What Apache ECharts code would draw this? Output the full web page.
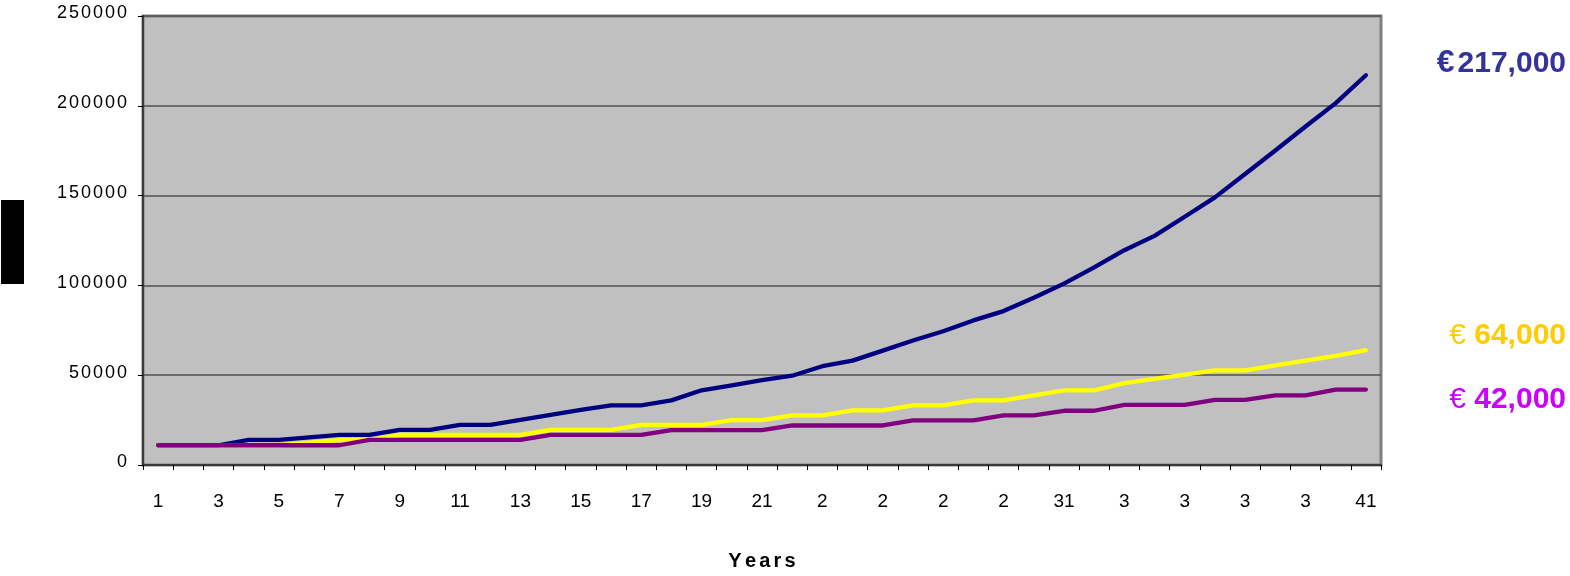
<!DOCTYPE html>
<html>
<head>
<meta charset="utf-8">
<script src="https://cdn.jsdelivr.net/npm/echarts@6/dist/echarts.min.js"></script>
<style>
  html, body { margin: 0; padding: 0; background: #ffffff; }
  #chart { width: 1570px; height: 576px; }
</style>
</head>
<body>
<div id="chart"></div>
<script>
// Years on the horizontal axis
const years = [1, 2, 3, 4, 5, 6, 7, 8, 9, 10, 11, 12, 13, 14, 15, 16, 17, 18, 19, 20,
  21, 22, 23, 24, 25, 26, 27, 28, 29, 30, 31, 32, 33, 34, 35, 36, 37, 38, 39, 40, 41];

// Labels printed under the axis (every second year)
const xTickLabels = ['1', '', '3', '', '5', '', '7', '', '9', '', '11', '', '13', '', '15', '',
  '17', '', '19', '', '21', '', '2', '', '2', '', '2', '', '2', '', '31', '', '3', '', '3', '',
  '3', '', '3', '', '41'];

// Value axis ticks
const yMin = 0;
const yMax = 250000;
const yStep = 50000;

// Accumulated value per year for the three scenarios
const highGrowth = [11000, 11000, 11000, 14000, 14000, 15400, 16800, 16800, 19600, 19600,
  22300, 22300, 25100, 27900, 30700, 33200, 33200, 36000, 41600, 44400,
  47200, 49700, 55000, 58100, 63700, 69300, 74500, 80500, 85700, 93100,
  101000, 110000, 119600, 127600, 138200, 149000, 162000, 175100, 188500, 201500, 217000];

const midGrowth = [11000, 11000, 11000, 11000, 11000, 12500, 14000, 14000, 16800, 16800,
  16800, 16800, 16800, 19600, 19600, 19600, 22300, 22300, 22300, 25000,
  25000, 27600, 27600, 30400, 30400, 33200, 33200, 36000, 36000, 38800,
  41600, 41600, 45600, 48000, 50300, 52700, 52700, 55500, 58100, 60700, 64000];

const lowGrowth = [11000, 11000, 11000, 11000, 11000, 11000, 11000, 14000, 14000, 14000,
  14000, 14000, 14000, 16800, 16800, 16800, 16800, 19400, 19400, 19400,
  19400, 22000, 22000, 22000, 22000, 24800, 24800, 24800, 27600, 27600,
  30200, 30200, 33500, 33500, 33500, 36300, 36300, 38800, 38800, 42000, 42000];

const FONT = '"Liberation Sans", Arial, sans-serif';

const euro = v => v.toLocaleString('en-US');
const last = arr => arr[arr.length - 1];

const chart = echarts.init(document.getElementById('chart'), null, { renderer: 'canvas' });

chart.setOption({
  animation: false,
  backgroundColor: '#ffffff',
  grid: {
    left: 143, right: 189, top: 16, bottom: 109,
    show: true,
    backgroundColor: '#c0c0c0',
    borderColor: '#808080',
    borderWidth: 3
  },
  xAxis: {
    type: 'category',
    data: years,
    boundaryGap: true,
    name: '{l|Y}{l|e}{l|a}{l|r}{l|s}',
    nameLocation: 'middle',
    nameGap: 86,
    nameTextStyle: {
      rich: { l: { fontFamily: FONT, fontSize: 20, fontWeight: 'bold', color: '#000', padding: [0, 1.6] } }
    },
    axisLine: { show: true, lineStyle: { color: '#3a3a3a', width: 2 } },
    axisTick: { show: true, interval: 0, length: 5, lineStyle: { color: '#000', width: 1 } },
    axisLabel: {
      interval: 0,
      margin: 27,
      fontFamily: FONT,
      fontSize: 19,
      color: '#000',
      formatter: (v, i) => xTickLabels[i]
    },
    splitLine: { show: false }
  },
  yAxis: {
    type: 'value',
    min: yMin,
    max: yMax,
    interval: yStep,
    axisLine: { show: true, lineStyle: { color: '#3a3a3a', width: 2 } },
    axisTick: { show: true, length: 5, lineStyle: { color: '#000', width: 1 } },
    axisLabel: {
      margin: 15,
      formatter: v => String(v).split('').map(c => '{d|' + c + '}').join(''),
      rich: { d: { fontFamily: FONT, fontSize: 18, color: '#000', padding: [0, 1, 5, 1] } }
    },
    splitLine: { show: true, lineStyle: { color: '#505050', width: 1.5 } }
  },
  series: [
    {
      name: 'High growth', type: 'line', data: highGrowth, symbol: 'none', z: 2,
      lineStyle: { color: '#000080', width: 4.3, cap: 'round', join: 'round' }
    },
    {
      name: 'Medium growth', type: 'line', data: midGrowth, symbol: 'none', z: 3,
      lineStyle: { color: '#ffff00', width: 4.3, cap: 'round', join: 'round' }
    },
    {
      name: 'Low growth', type: 'line', data: lowGrowth, symbol: 'none', z: 4,
      lineStyle: { color: '#800080', width: 4.3, cap: 'round', join: 'round' }
    }
  ],
  graphic: [
    { type: 'rect', x: 1, y: 200, shape: { width: 23, height: 84 }, style: { fill: '#000000' } },
    {
      type: 'text', x: 1566, y: 63.5,
      style: {
        text: '{e|€}{n|' + euro(last(highGrowth)) + '}',
        align: 'right', verticalAlign: 'middle',
        rich: {
          e: { fontFamily: FONT, fontSize: 32, fontWeight: 'bold', fill: '#333399', padding: [0, 3, 0, 0] },
          n: { fontFamily: FONT, fontSize: 30, fontWeight: 'bold', fill: '#333399' }
        }
      }
    },
    {
      type: 'text', x: 1566, y: 336,
      style: {
        text: '{e|€ }{n|' + euro(last(midGrowth)) + '}',
        align: 'right', verticalAlign: 'middle',
        rich: {
          e: { fontFamily: FONT, fontSize: 30, fontWeight: 'normal', fill: '#ffcc00' },
          n: { fontFamily: FONT, fontSize: 30, fontWeight: 'bold', fill: '#ffcc00' }
        }
      }
    },
    {
      type: 'text', x: 1566, y: 400,
      style: {
        text: '{e|€ }{n|' + euro(last(lowGrowth)) + '}',
        align: 'right', verticalAlign: 'middle',
        rich: {
          e: { fontFamily: FONT, fontSize: 30, fontWeight: 'normal', fill: '#cc00ff' },
          n: { fontFamily: FONT, fontSize: 30, fontWeight: 'bold', fill: '#cc00ff' }
        }
      }
    }
  ]
});
</script>
</body>
</html>
